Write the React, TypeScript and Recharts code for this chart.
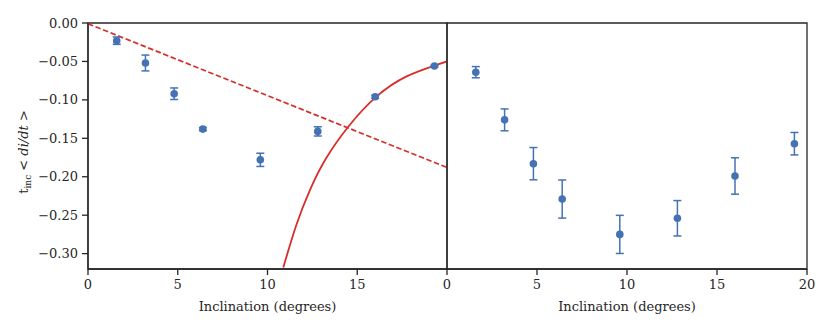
import {
  ComposedChart,
  ErrorBar,
  Line,
  ReferenceArea,
  Scatter,
  XAxis,
  YAxis,
} from "recharts";

// left panel: measured points
const incl = [1.6, 3.2, 4.8, 6.4, 9.6, 12.8, 16.0, 19.3];
const leftVals = [-0.023, -0.052, -0.092, -0.138, -0.178, -0.141, -0.096, -0.056];
const leftErr = [0.0048, 0.0103, 0.0075, 0.002, 0.0086, 0.006, 0.002, 0.001];

// right panel: measured points
const rightVals = [-0.064, -0.126, -0.183, -0.229, -0.275, -0.254, -0.199, -0.157];
const rightErr = [0.0073, 0.0142, 0.021, 0.0248, 0.0248, 0.023, 0.0237, 0.0146];

// dashed linear trend
const trendX = [0, 20];
const trendY = [-0.001, -0.188];

// solid red curve
const curveX = [10.88, 11.63, 12.37, 13.2, 14.5, 16.08, 17.75, 19.33, 20.0];
const curveY = [-0.318, -0.2612, -0.217, -0.1785, -0.135, -0.0955, -0.0694, -0.0552, -0.05];

const yTicks = [0, -0.05, -0.1, -0.15, -0.2, -0.25, -0.3];
const leftXTicks = [0, 5, 10, 15];
const rightXTicks = [0, 5, 10, 15, 20];

const BLUE = "#4472b4";
const RED = "#d62f2a";
const INK = "#262626";
const FONT = "DejaVu Serif";
const FS = 13;

const leftPts = incl.map((x, i) => ({ x, y: leftVals[i], err: leftErr[i] }));
const rightPts = incl.map((x, i) => ({ x, y: rightVals[i], err: rightErr[i] }));
const trend = trendX.map((x, i) => ({ x, y: trendY[i] }));
const curve = curveX.map((x, i) => ({ x, y: curveY[i] }));

const fmt = (v: number) => (v < 0 ? "\u2212" : "") + Math.abs(v).toFixed(2);
const tickStyle = { fontSize: FS, fill: INK, fontFamily: FONT };

const dot = (p: any) => <circle cx={p.cx} cy={p.cy} r={3.8} fill={BLUE} />;

function YLabel(props: any) {
  const vb = props.viewBox || {};
  const cx = (vb.x ?? 0) + 28;
  const cy = (vb.y ?? 0) + (vb.height ?? 0) / 2 + 6;
  return (
    <text
      x={cx}
      y={cy}
      transform={`rotate(-90, ${cx}, ${cy})`}
      textAnchor="middle"
      fill={INK}
      style={{ fontFamily: FONT, fontSize: FS }}
    >
      <tspan>t</tspan>
      <tspan fontSize={9} dy={3}>inc</tspan>
      <tspan dy={-3}>{" < "}</tspan>
      <tspan fontStyle="italic">di/dt</tspan>
      <tspan>{" >"}</tspan>
    </text>
  );
}

const xLabel = {
  value: "Inclination (degrees)",
  position: "insideBottom" as const,
  offset: 21,
  fill: INK,
  fontSize: FS,
  fontFamily: FONT,
};

export default function App() {
  return (
    <div
      style={{
        position: "absolute",
        left: 0,
        top: 0,
        width: 830,
        height: 332,
        background: "#fff",
        fontFamily: FONT,
      }}
    >
      <div style={{ position: "absolute", left: 0, top: 0 }}>
        <ComposedChart
          width={460}
          height={332}
          margin={{ top: 23, right: 13, left: 0, bottom: 0 }}
          style={{ fontFamily: FONT }}
        >
          <XAxis
            dataKey="x"
            type="number"
            domain={[0, 20]}
            ticks={leftXTicks}
            allowDataOverflow
            height={63}
            tickSize={6}
            tickMargin={5}
            tick={tickStyle}
            stroke={INK}
            strokeWidth={1.3}
            label={xLabel}
          />
          <YAxis
            type="number"
            domain={[-0.32, 0]}
            ticks={yTicks}
            allowDataOverflow
            width={88}
            tickSize={6}
            tickMargin={4}
            tick={tickStyle}
            tickFormatter={fmt}
            stroke={INK}
            strokeWidth={1.3}
            label={<YLabel />}
          />
          <ReferenceArea x1={0} x2={20} y1={-0.32} y2={0} fill="none" stroke={INK} strokeWidth={1.3} />
          <Line
            data={trend}
            dataKey="y"
            type="linear"
            stroke={RED}
            strokeWidth={1.7}
            strokeDasharray="5.5 2.6"
            dot={false}
            isAnimationActive={false}
          />
          <Line
            data={curve}
            dataKey="y"
            type="natural"
            stroke={RED}
            strokeWidth={1.8}
            dot={false}
            isAnimationActive={false}
          />
          <Scatter data={leftPts} dataKey="y" shape={dot} isAnimationActive={false}>
            <ErrorBar dataKey="err" direction="y" width={4} stroke={BLUE} strokeWidth={1.5} />
          </Scatter>
        </ComposedChart>
      </div>
      <div style={{ position: "absolute", left: 440, top: 0 }}>
        <ComposedChart
          width={390}
          height={332}
          margin={{ top: 23, right: 23, left: 7, bottom: 0 }}
          style={{ fontFamily: FONT }}
        >
          <XAxis
            dataKey="x"
            type="number"
            domain={[0, 20]}
            ticks={rightXTicks}
            allowDataOverflow
            height={63}
            tickSize={6}
            tickMargin={5}
            tick={tickStyle}
            stroke={INK}
            strokeWidth={1.3}
            label={xLabel}
          />
          <YAxis
            type="number"
            orientation="right"
            mirror
            domain={[-0.32, 0]}
            ticks={yTicks}
            allowDataOverflow
            width={0}
            tickSize={7}
            tick={false}
            stroke={INK}
            strokeWidth={1.3}
          />
          <ReferenceArea x1={0} x2={20} y1={-0.32} y2={0} fill="none" stroke={INK} strokeWidth={1.3} />
          <Scatter data={rightPts} dataKey="y" shape={dot} isAnimationActive={false}>
            <ErrorBar dataKey="err" direction="y" width={4} stroke={BLUE} strokeWidth={1.5} />
          </Scatter>
        </ComposedChart>
      </div>
    </div>
  );
}
